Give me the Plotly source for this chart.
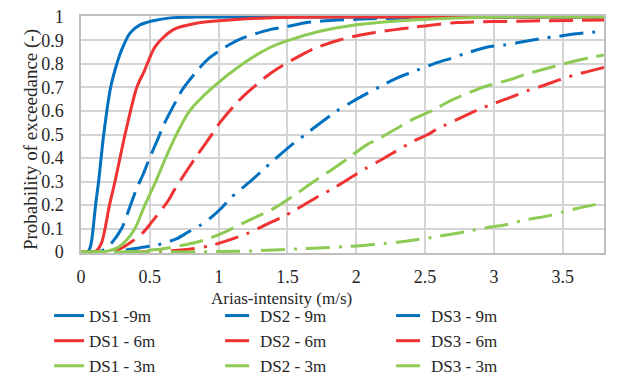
import plotly.graph_objects as go

# ---- data ----
x_tick_vals = [0, 0.5, 1, 1.5, 2, 2.5, 3, 3.5]
x_tick_text = ["0", "0.5", "1", "1.5", "2", "2.5", "3", "3.5"]
y_tick_vals = [0, 0.1, 0.2, 0.3, 0.4, 0.5, 0.6, 0.7, 0.8, 0.9, 1.0]
y_tick_text = ["0", "0.1", "0.2", "0.3", "0.4", "0.5", "0.6", "0.7", "0.8", "0.9", "1"]
x_title = "Arias-intensity (m/s)"
y_title = "Probability of exceedance (-)"

ds1_9m_x = [0, 0.04, 0.06, 0.075, 0.088, 0.106, 0.128, 0.165, 0.215, 0.26, 0.296, 0.356, 0.428, 0.524, 0.65, 0.9, 3.8]
ds1_9m_y = [0, 0, 0.01, 0.04, 0.1, 0.2, 0.3, 0.5, 0.7, 0.8, 0.861, 0.931, 0.966, 0.984, 0.996, 1.0, 1.0]

ds1_6m_x = [0, 0.09, 0.12, 0.15, 0.175, 0.207, 0.247, 0.32, 0.405, 0.46, 0.54, 0.668, 0.837, 1.077, 1.44, 2.0, 3.8]
ds1_6m_y = [0, 0, 0.01, 0.04, 0.1, 0.2, 0.3, 0.5, 0.7, 0.77, 0.875, 0.945, 0.973, 0.987, 0.998, 1.0, 1.0]

ds1_3m_x = [0, 0.14, 0.2, 0.27, 0.33, 0.392, 0.464, 0.543, 0.615, 0.693, 0.789, 0.957, 1.173, 1.366, 1.486, 1.727, 1.99, 2.33, 2.81, 3.3, 3.8]
ds1_3m_y = [0, 0, 0.005, 0.02, 0.05, 0.1, 0.2, 0.3, 0.4, 0.5, 0.6, 0.7, 0.8, 0.868, 0.896, 0.938, 0.966, 0.984, 0.997, 1.0, 1.0]

ds2_9m_x = [0, 0.1, 0.15, 0.21, 0.295, 0.36, 0.404, 0.452, 0.488, 0.565, 0.6, 0.693, 0.74, 0.861, 0.933, 1.077, 1.173, 1.366, 1.462, 1.667, 2.0, 2.4, 3.0, 3.8]
ds2_9m_y = [0, 0, 0.005, 0.03, 0.1, 0.2, 0.27, 0.331, 0.385, 0.49, 0.54, 0.645, 0.694, 0.783, 0.826, 0.882, 0.91, 0.945, 0.955, 0.978, 0.99, 0.996, 0.999, 1.0]

ds2_6m_x = [0, 0.2, 0.284, 0.37, 0.452, 0.512, 0.632, 0.68, 0.789, 0.837, 0.957, 1.005, 1.137, 1.198, 1.354, 1.438, 1.606, 1.703, 1.883, 1.979, 2.136, 2.268, 2.424, 2.556, 2.737, 3.2, 3.8]
ds2_6m_y = [0, 0, 0.014, 0.045, 0.084, 0.126, 0.217, 0.266, 0.364, 0.406, 0.505, 0.547, 0.638, 0.673, 0.75, 0.784, 0.84, 0.868, 0.903, 0.917, 0.934, 0.945, 0.956, 0.966, 0.976, 0.982, 0.987]

ds2_3m_x = [0, 0.3, 0.45, 0.596, 0.789, 0.885, 1.053, 1.149, 1.366, 1.414, 1.57, 1.654, 1.822, 1.943, 2.075, 2.147, 2.316, 2.4, 2.58, 2.664, 2.857, 2.941, 3.134, 3.218, 3.41, 3.505, 3.698, 3.8]
ds2_3m_y = [0, 0, 0.005, 0.014, 0.035, 0.049, 0.087, 0.115, 0.175, 0.19, 0.25, 0.285, 0.35, 0.4, 0.456, 0.477, 0.533, 0.561, 0.61, 0.638, 0.687, 0.705, 0.736, 0.754, 0.785, 0.8, 0.827, 0.838]

ds3_9m_x = [0, 0.2, 0.3, 0.356, 0.55, 0.693, 0.776, 0.861, 0.945, 1.017, 1.089, 1.245, 1.318, 1.39, 1.546, 1.626, 1.703, 1.859, 1.955, 2.039, 2.219, 2.307, 2.4, 2.587, 2.684, 2.773, 2.953, 3.074, 3.17, 3.374, 3.47, 3.567, 3.8]
ds3_9m_y = [0, 0, 0.005, 0.012, 0.03, 0.056, 0.084, 0.112, 0.147, 0.185, 0.231, 0.308, 0.347, 0.385, 0.463, 0.498, 0.533, 0.6, 0.634, 0.662, 0.718, 0.743, 0.764, 0.806, 0.823, 0.841, 0.872, 0.881, 0.89, 0.911, 0.918, 0.926, 0.94]

ds3_6m_x = [0, 0.4, 0.6, 0.812, 0.945, 1.101, 1.198, 1.378, 1.467, 1.558, 1.727, 1.818, 1.907, 2.015, 2.075, 2.159, 2.244, 2.424, 2.513, 2.597, 2.785, 2.876, 2.965, 3.157, 3.247, 3.338, 3.53, 3.631, 3.723, 3.8]
ds3_6m_y = [0, 0, 0.003, 0.014, 0.028, 0.056, 0.077, 0.126, 0.15, 0.179, 0.238, 0.266, 0.297, 0.337, 0.358, 0.385, 0.414, 0.474, 0.498, 0.526, 0.578, 0.603, 0.624, 0.666, 0.687, 0.704, 0.743, 0.76, 0.774, 0.785]

ds3_3m_x = [0, 0.5, 1.0, 1.3, 1.6, 1.8, 1.95, 2.05, 2.2, 2.3, 2.41, 2.6, 2.7, 2.8, 2.95, 3.1, 3.2, 3.4, 3.5, 3.6, 3.8]
ds3_3m_y = [0, 0, 0.002, 0.006, 0.014, 0.019, 0.024, 0.028, 0.036, 0.042, 0.05, 0.067, 0.077, 0.087, 0.104, 0.117, 0.133, 0.155, 0.17, 0.185, 0.21]

# ---- styling ----
BLUE = "#0070C0"
RED = "#F03232"
GREEN = "#8DCB55"
LONG_DASH = "24px,9px"
LONG_DASH_DOT = "24px,9px,3px,9px"
FONT = "Times New Roman, Liberation Serif, DejaVu Serif, serif"
TEXT_COLOR = "#262626"

series = [
    ("DS1 -9m", ds1_9m_x, ds1_9m_y, BLUE, "solid"),
    ("DS2 - 9m", ds2_9m_x, ds2_9m_y, BLUE, LONG_DASH),
    ("DS3 - 9m", ds3_9m_x, ds3_9m_y, BLUE, LONG_DASH_DOT),
    ("DS1 - 6m", ds1_6m_x, ds1_6m_y, RED, "solid"),
    ("DS2 - 6m", ds2_6m_x, ds2_6m_y, RED, LONG_DASH),
    ("DS3 - 6m", ds3_6m_x, ds3_6m_y, RED, LONG_DASH_DOT),
    ("DS1 - 3m", ds1_3m_x, ds1_3m_y, GREEN, "solid"),
    ("DS2 - 3m", ds2_3m_x, ds2_3m_y, GREEN, LONG_DASH),
    ("DS3 - 3m", ds3_3m_x, ds3_3m_y, GREEN, LONG_DASH_DOT),
]

fig = go.Figure()
for name, xs, ys, color, dash in series:
    fig.add_trace(go.Scatter(
        x=xs, y=ys, name=name, mode="lines",
        line=dict(color=color, width=3, dash=dash, shape="spline", smoothing=0.8),
    ))

# the page body adds an 8px offset, so margins are shifted to compensate
fig.update_layout(
    width=622, height=376,
    margin=dict(l=73, r=26, t=8, b=131, autoexpand=False),
    paper_bgcolor="white", plot_bgcolor="white",
    font=dict(family=FONT, size=18, color=TEXT_COLOR),
    showlegend=True,
    legend=dict(
        orientation="h", x=-0.061, xanchor="left", y=-0.19, yanchor="top",
        entrywidth=126, entrywidthmode="pixels",
        font=dict(family=FONT, size=17, color=TEXT_COLOR),
        tracegroupgap=0, itemwidth=30,
        bgcolor="rgba(0,0,0,0)",
    ),
    annotations=[
        dict(text=x_title, xref="paper", yref="paper", x=0.383, y=-0.192,
             xanchor="center", yanchor="middle", showarrow=False,
             font=dict(family=FONT, size=17, color=TEXT_COLOR)),
        dict(text=y_title, xref="paper", yref="paper", x=-0.0954, y=0.477,
             xanchor="center", yanchor="middle", showarrow=False, textangle=-90,
             font=dict(family=FONT, size=19, color=TEXT_COLOR)),
    ],
)
fig.update_xaxes(
    range=[0, 3.8], tickvals=x_tick_vals, ticktext=x_tick_text,
    showgrid=True, gridcolor="#D4D4D4", gridwidth=1.5,
    showline=True, linecolor="#BFBFBF", linewidth=1.5, mirror=True,
    zeroline=False, ticks="", ticklabelstandoff=7, ticklabeloverflow="allow",
)
fig.update_yaxes(
    range=[-0.004, 1.004], tickvals=y_tick_vals, ticktext=y_tick_text,
    showgrid=True, gridcolor="#D4D4D4", gridwidth=1.5,
    showline=True, linecolor="#BFBFBF", linewidth=1.5, mirror=True,
    zeroline=False, ticks="", ticklabelstandoff=12, ticklabeloverflow="allow",
)

fig.write_html("out.html")
